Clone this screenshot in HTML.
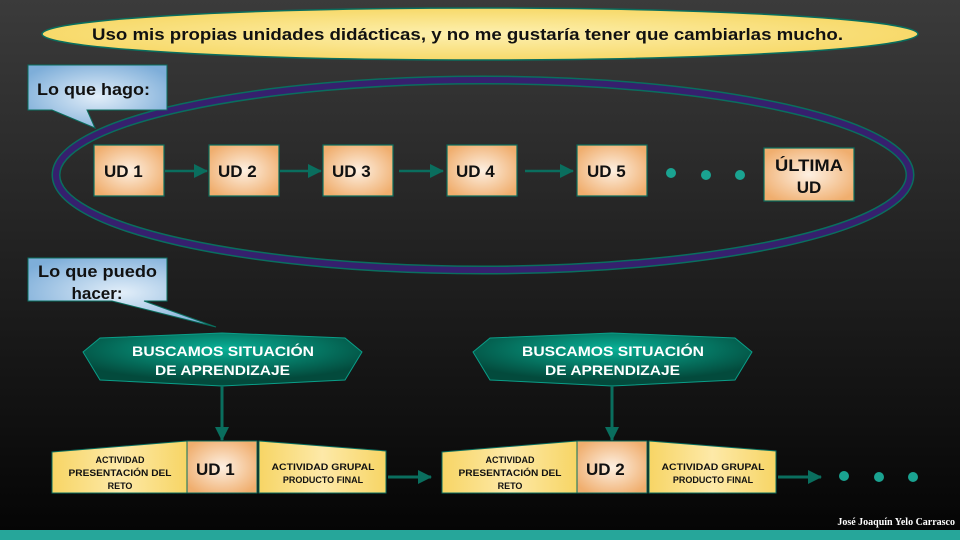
<!DOCTYPE html>
<html><head><meta charset="utf-8"><style>
html,body{margin:0;padding:0;width:960px;height:540px;overflow:hidden}
svg{display:block}
</style></head><body>
<svg width="960" height="540" viewBox="0 0 960 540" xmlns="http://www.w3.org/2000/svg" font-family="Liberation Sans, sans-serif" font-weight="bold">
<defs>
<linearGradient id="bg" x1="0" y1="0" x2="0" y2="1"><stop offset="0" stop-color="#3b3b3b"/><stop offset="1" stop-color="#040404"/></linearGradient>
<radialGradient id="yel" cx="0.5" cy="0.5" r="0.6"><stop offset="0" stop-color="#fdf0b0"/><stop offset="1" stop-color="#f6d55c"/></radialGradient>
<radialGradient id="org" cx="0.5" cy="0.5" r="0.6"><stop offset="0" stop-color="#fdf0e2"/><stop offset="1" stop-color="#f0ae6e"/></radialGradient>
<radialGradient id="blu" cx="0.5" cy="0.5" r="0.6"><stop offset="0" stop-color="#e2eef9"/><stop offset="1" stop-color="#7eaed9"/></radialGradient>
<radialGradient id="grn" cx="0.5" cy="0.3" r="0.6"><stop offset="0" stop-color="#08b096"/><stop offset="1" stop-color="#034a3c"/></radialGradient>
<linearGradient id="yb" x1="0" y1="0" x2="1" y2="0"><stop offset="0" stop-color="#f7d565"/><stop offset="0.5" stop-color="#fde9a8"/><stop offset="1" stop-color="#f7d565"/></linearGradient>
<marker id="ar" markerWidth="14" markerHeight="14" refX="13" refY="7" orient="auto" markerUnits="userSpaceOnUse"><path d="M0,0 L14,7 L0,14 z" fill="#0a6e5e"/></marker>
</defs>
<rect width="960" height="540" fill="url(#bg)"/>
<rect x="0" y="530" width="960" height="10" fill="#26a69a"/>
<text x="955" y="525" font-family="Liberation Serif, serif" font-size="10" fill="#fff" text-anchor="end">José Joaquín Yelo Carrasco</text>

<ellipse cx="480" cy="34" rx="438" ry="26" fill="url(#yel)" stroke="#0a6e5e" stroke-width="1.5"/>
<text x="92" y="40" font-size="17" fill="#111" textLength="751" lengthAdjust="spacingAndGlyphs">Uso mis propias unidades didácticas,  y no me gustaría tener que cambiarlas mucho.</text>

<ellipse cx="483" cy="175" rx="427" ry="95" fill="none" stroke="#0a6e5e" stroke-width="9"/>
<ellipse cx="483" cy="175" rx="427" ry="95" fill="none" stroke="#36206e" stroke-width="6"/>

<path d="M28,65 H167 V110 H87 L95,128 L52,110 H28 Z" fill="url(#blu)" stroke="#0a6e5e" stroke-width="1"/>
<text x="37" y="95" font-size="17" fill="#111" textLength="113" lengthAdjust="spacingAndGlyphs">Lo que hago:</text>
<path d="M28,258 H167 V301 H144 L216,327 L112,301 H28 Z" fill="url(#blu)" stroke="#0a6e5e" stroke-width="1"/>
<text x="38" y="277" font-size="17" fill="#111" textLength="119" lengthAdjust="spacingAndGlyphs">Lo que puedo</text>
<text x="97" y="299" font-size="17" fill="#111" text-anchor="middle">hacer:</text>

<g stroke="#0a6e5e" stroke-width="1.2">
<rect x="94" y="145" width="70" height="51" fill="url(#org)"/>
<rect x="209" y="145" width="70" height="51" fill="url(#org)"/>
<rect x="323" y="145" width="70" height="51" fill="url(#org)"/>
<rect x="447" y="145" width="70" height="51" fill="url(#org)"/>
<rect x="577" y="145" width="70" height="51" fill="url(#org)"/>
<rect x="764" y="148" width="90" height="53" fill="url(#org)"/>
</g>
<g font-size="17" fill="#111">
<text x="104" y="177">UD 1</text><text x="218" y="177">UD 2</text><text x="332" y="177">UD 3</text>
<text x="456" y="177">UD 4</text><text x="587" y="177">UD 5</text>
<text x="809" y="171" text-anchor="middle" textLength="68" lengthAdjust="spacingAndGlyphs">ÚLTIMA</text><text x="809" y="193" text-anchor="middle">UD</text>
</g>
<g stroke="#0a6e5e" stroke-width="2.5" marker-end="url(#ar)">
<line x1="165" y1="171" x2="207" y2="171"/><line x1="280" y1="171" x2="321" y2="171"/>
<line x1="399" y1="171" x2="443" y2="171"/><line x1="525" y1="171" x2="573" y2="171"/>
</g>
<g fill="#1aa391"><circle cx="671" cy="173" r="5"/><circle cx="706" cy="175" r="5"/><circle cx="740" cy="175" r="5"/></g>

<g>
<path d="M83,352 L100,338 L222,333 L345,338 L362,352 L345,380 L222,386 L100,380 Z" fill="url(#grn)" stroke="#0a9e88" stroke-width="1"/>
<text x="132" y="356" font-size="14" fill="#fff" textLength="182" lengthAdjust="spacingAndGlyphs">BUSCAMOS SITUACIÓN</text>
<text x="155" y="375" font-size="14" fill="#fff" textLength="135" lengthAdjust="spacingAndGlyphs">DE APRENDIZAJE</text>
<line x1="222" y1="386" x2="222" y2="440" stroke="#0a6e5e" stroke-width="3" marker-end="url(#ar)"/>
<path d="M52,452 L187,441 V493 H52 Z" fill="url(#yb)" stroke="#0a6e5e" stroke-width="1"/>
<rect x="187" y="441" width="70" height="52" fill="url(#org)" stroke="#0a6e5e" stroke-width="1"/>
<path d="M259,441 L386,451 V493 H259 Z" fill="url(#yb)" stroke="#0a6e5e" stroke-width="1"/>
<text x="120" y="463" font-size="9" fill="#111" text-anchor="middle">ACTIVIDAD</text>
<text x="120" y="476" font-size="9" fill="#111" text-anchor="middle" textLength="103" lengthAdjust="spacingAndGlyphs">PRESENTACIÓN DEL</text>
<text x="120" y="489" font-size="9" fill="#111" text-anchor="middle">RETO</text>
<text x="196" y="475" font-size="17" fill="#111">UD 1</text>
<text x="323" y="470" font-size="9" fill="#111" text-anchor="middle" textLength="103" lengthAdjust="spacingAndGlyphs">ACTIVIDAD GRUPAL</text>
<text x="323" y="483" font-size="9" fill="#111" text-anchor="middle">PRODUCTO FINAL</text>
<line x1="388" y1="477" x2="431" y2="477" stroke="#0a6e5e" stroke-width="3" marker-end="url(#ar)"/>
</g>
<g transform="translate(390,0)">
<path d="M83,352 L100,338 L222,333 L345,338 L362,352 L345,380 L222,386 L100,380 Z" fill="url(#grn)" stroke="#0a9e88" stroke-width="1"/>
<text x="132" y="356" font-size="14" fill="#fff" textLength="182" lengthAdjust="spacingAndGlyphs">BUSCAMOS SITUACIÓN</text>
<text x="155" y="375" font-size="14" fill="#fff" textLength="135" lengthAdjust="spacingAndGlyphs">DE APRENDIZAJE</text>
<line x1="222" y1="386" x2="222" y2="440" stroke="#0a6e5e" stroke-width="3" marker-end="url(#ar)"/>
<path d="M52,452 L187,441 V493 H52 Z" fill="url(#yb)" stroke="#0a6e5e" stroke-width="1"/>
<rect x="187" y="441" width="70" height="52" fill="url(#org)" stroke="#0a6e5e" stroke-width="1"/>
<path d="M259,441 L386,451 V493 H259 Z" fill="url(#yb)" stroke="#0a6e5e" stroke-width="1"/>
<text x="120" y="463" font-size="9" fill="#111" text-anchor="middle">ACTIVIDAD</text>
<text x="120" y="476" font-size="9" fill="#111" text-anchor="middle" textLength="103" lengthAdjust="spacingAndGlyphs">PRESENTACIÓN DEL</text>
<text x="120" y="489" font-size="9" fill="#111" text-anchor="middle">RETO</text>
<text x="196" y="475" font-size="17" fill="#111">UD 2</text>
<text x="323" y="470" font-size="9" fill="#111" text-anchor="middle" textLength="103" lengthAdjust="spacingAndGlyphs">ACTIVIDAD GRUPAL</text>
<text x="323" y="483" font-size="9" fill="#111" text-anchor="middle">PRODUCTO FINAL</text>
<line x1="388" y1="477" x2="431" y2="477" stroke="#0a6e5e" stroke-width="3" marker-end="url(#ar)"/>
</g>
<g fill="#1aa391"><circle cx="844" cy="476" r="5"/><circle cx="879" cy="477" r="5"/><circle cx="913" cy="477" r="5"/></g>
</svg>
</body></html>
